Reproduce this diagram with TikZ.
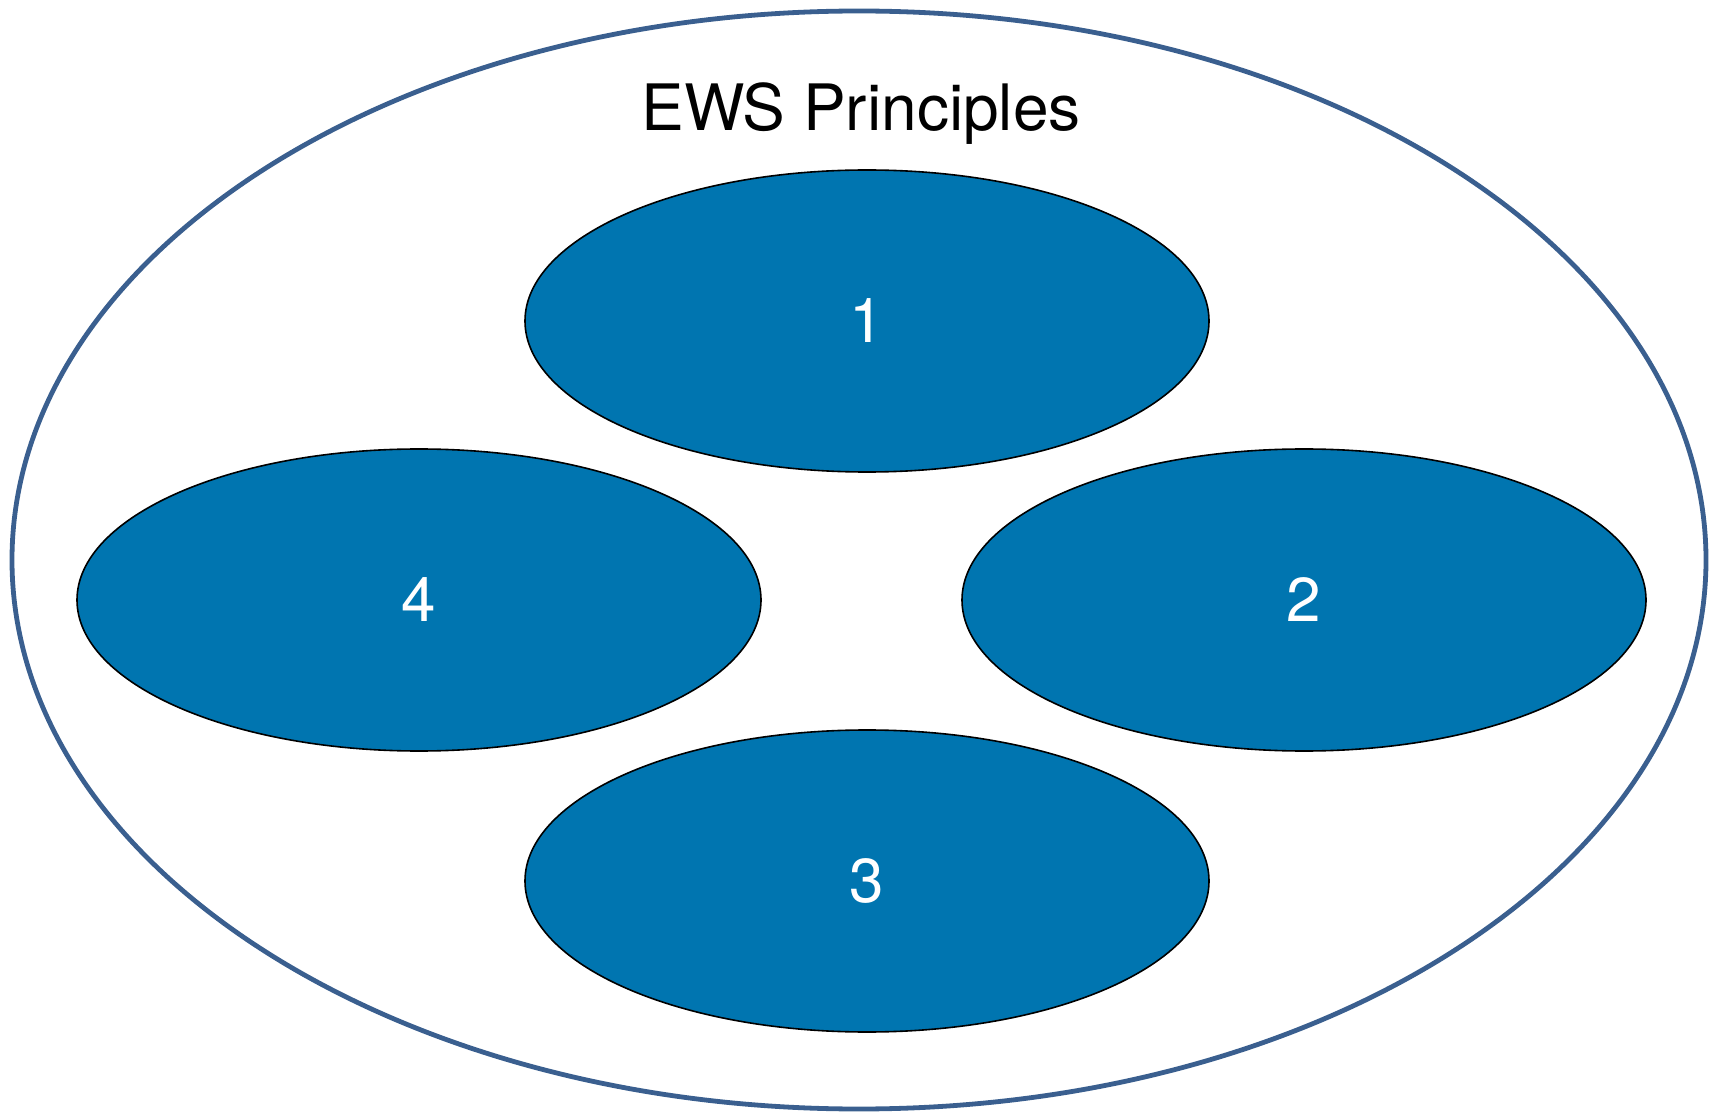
\documentclass[tikz,border=0pt]{standalone}
\usepackage{fontspec}
\setmainfont{TeX Gyre Heros}
\usepackage{tikz}
\usetikzlibrary{shapes.geometric}
\definecolor{ewsBlue}{RGB}{0,117,176}
\definecolor{ewsFrame}{RGB}{58,95,143}
\tikzset{
	principle/.style={ellipse, draw=black, line width=0.8pt, fill=ewsBlue,
		minimum width=342pt, minimum height=151pt, inner sep=0pt,
		text=white, font=\fontsize{31}{36}\selectfont},
	frame/.style={draw=ewsFrame, line width=2.4pt}
}
\newcommand{\principle}[3]{
	\node[principle] (p#3) at (#1, #2) {#3};
}

\begin{document}
\begin{tikzpicture}[x=0.5pt, y=-0.5pt]
				\useasboundingbox (0,0) rectangle (1709,1112);
				% outer frame
				\draw[frame] (859,560) ellipse [x radius=847, y radius=549];
				\node[font=\fontsize{32}{38}\selectfont] (title) at (861,114) {EWS Principles};
				% the four principles
				\principle{867}{321}{1}
				\principle{1304}{600}{2}
				\principle{867}{881}{3}
				\principle{419}{600}{4}
			\end{tikzpicture}
\end{document}
